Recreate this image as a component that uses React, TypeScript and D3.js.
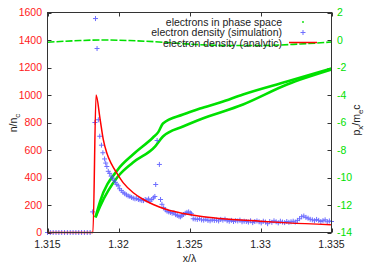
import * as d3 from "d3";

// electron density from the simulation, [x/lambda, n/nc]
const simulation: [number, number][] = [
  [1.315, 0], [1.3152, 0], [1.3154, 0], [1.3156, 0], [1.3158, 0], [1.316, 0], [1.3162, 0], [1.3164, 0],
  [1.3166, 0], [1.3168, 0], [1.317, 0], [1.3172, 0], [1.3174, 0], [1.3176, 0], [1.3178, 0], [1.318, 0],
  [1.31818, 150], [1.31834, 800], [1.31838, 1556], [1.31849, 1338], [1.31858, 820], [1.31868, 700],
  [1.3188, 635], [1.3189, 580], [1.31902, 535], [1.3191, 505], [1.31918, 480], [1.31928, 445],
  [1.31938, 430], [1.31948, 410], [1.31958, 395], [1.31968, 380], [1.31978, 365], [1.31988, 350],
  [1.31998, 340], [1.32008, 318], [1.3202, 305], [1.32032, 292], [1.32044, 282], [1.32056, 274],
  [1.32068, 266], [1.3208, 262], [1.32092, 255], [1.32104, 250], [1.32116, 245], [1.32128, 247],
  [1.3214, 240], [1.32152, 238], [1.32164, 233], [1.32176, 232], [1.32188, 240], [1.322, 236],
  [1.32212, 244], [1.32222, 228], [1.32234, 240], [1.32246, 252], [1.32256, 262], [1.32262, 349],
  [1.32272, 669], [1.32288, 495], [1.32296, 240], [1.32306, 205], [1.32318, 180], [1.3233, 165],
  [1.32342, 155], [1.32354, 150], [1.32366, 146], [1.32378, 140], [1.3239, 143], [1.32402, 130],
  [1.32414, 124], [1.32426, 118], [1.32436, 114], [1.32446, 122], [1.32458, 131], [1.3247, 140],
  [1.32482, 146], [1.32494, 150], [1.32506, 142], [1.32514, 136], [1.32526, 100],
  [1.3254, 98], [1.32555, 95], [1.3257, 100], [1.32585, 92], [1.326, 90], [1.32615, 96], [1.3263, 88],
  [1.32645, 85], [1.3266, 92], [1.32675, 88], [1.3269, 90], [1.32705, 84], [1.3272, 95], [1.32735, 90],
  [1.3275, 97], [1.32765, 86], [1.3278, 82], [1.32795, 88], [1.3281, 80], [1.32825, 86], [1.3284, 84],
  [1.32855, 90], [1.3287, 78], [1.32885, 82], [1.329, 80], [1.32915, 76], [1.3293, 85], [1.32945, 72],
  [1.3296, 80], [1.32975, 84], [1.3299, 78], [1.33005, 70], [1.3302, 82], [1.33035, 76], [1.3305, 64],
  [1.33065, 80], [1.3308, 74], [1.33095, 85], [1.3311, 78], [1.33125, 70], [1.3314, 82], [1.33155, 76],
  [1.3317, 72], [1.33185, 80], [1.332, 74], [1.33215, 78], [1.3323, 82], [1.33245, 76], [1.3326, 88],
  [1.33275, 100], [1.3329, 115], [1.33305, 120], [1.3332, 110], [1.33335, 104], [1.3335, 96],
  [1.33365, 92], [1.3338, 86], [1.33395, 95], [1.3341, 88], [1.33425, 80], [1.3344, 86], [1.33455, 92],
  [1.3347, 78], [1.33485, 84], [1.335, 80],
];

// analytic density
const analytic: [number, number][] = [
  [1.315, 0], [1.3182, 0], [1.31842, 1000], [1.3187, 827], [1.31893, 676], [1.31917, 580],
  [1.31952, 495], [1.31987, 434], [1.32034, 361], [1.32104, 289], [1.32175, 240], [1.32245, 204],
  [1.32339, 167], [1.32456, 138], [1.32574, 118], [1.32715, 102], [1.32996, 82], [1.3319, 70],
  [1.33496, 56],
];

// phase space px/mec (right axis): cold background and two accelerated ribbons
const phaseCold: [number, number][] = [
  [1.315, -0.16], [1.3173, -0.04], [1.3187, 0.0], [1.3208, -0.04], [1.3231, -0.16], [1.3255, -0.33],
  [1.3279, -0.4], [1.33, -0.4], [1.3328, -0.29], [1.335, -0.15],
];
const phaseUpper: [number, number][] = [
  [1.31838, -12.9], [1.3187, -11.75], [1.31996, -9.42], [1.32102, -8.33], [1.32243, -7.09],
  [1.3228, -6.7], [1.32313, -6.07], [1.32454, -5.42], [1.32574, -4.98], [1.32715, -4.55],
  [1.32877, -3.96], [1.33187, -3.02], [1.335, -2.07],
];
const phaseLower: [number, number][] = [
  [1.31838, -12.9], [1.3187, -12.11], [1.31996, -9.93], [1.32102, -8.91], [1.32257, -7.75],
  [1.32313, -7.02], [1.32454, -6.29], [1.32574, -5.78], [1.32877, -4.69], [1.33187, -3.24],
  [1.335, -2.15],
];

const xTicks = [1.315, 1.32, 1.325, 1.33, 1.335];
const yTicks = [0, 200, 400, 600, 800, 1000, 1200, 1400, 1600];
const y2Ticks = [-14, -12, -10, -8, -6, -4, -2, 0, 2];
const legendLabels = [
  "electrons in phase space",
  "electron density (simulation)",
  "electron density (analytic)",
];

const W = 382;
const H = 267;
const left = 47.5, right = 331.5, top = 12.5, bottom = 232.5;
const font = "'Liberation Sans', Arial, sans-serif";
const GREEN = "#00e000";
const RED = "#ff0000";
const BLUE = "#4a4aff";

export default function App() {
  const x = d3.scaleLinear().domain([1.315, 1.335]).range([left, right]);
  const y = d3.scaleLinear().domain([0, 1600]).range([bottom, top]);
  const y2 = d3.scaleLinear().domain([-14, 2]).range([bottom, top]);

  const lineY = d3.line<[number, number]>().x(d => x(d[0])).y(d => y(d[1])).curve(d3.curveMonotoneX);
  const lineY2 = d3.line<[number, number]>().x(d => x(d[0])).y(d => y2(d[1])).curve(d3.curveMonotoneX);

  const tick = 4;

  return (
    <svg width={W} height={H} style={{ position: "absolute", left: 0, top: 0, background: "#fff" }}
      fontFamily={font} fontSize={10.5}>
      {/* ticks */}
      <g stroke="#333" strokeWidth={1}>
        {xTicks.map(t => (
          <g key={"xt" + t}>
            <line x1={Math.round(x(t)) + 0.5} x2={Math.round(x(t)) + 0.5} y1={bottom} y2={bottom - tick} />
            <line x1={Math.round(x(t)) + 0.5} x2={Math.round(x(t)) + 0.5} y1={top} y2={top + tick} />
          </g>
        ))}
        {yTicks.map(t => (
          <line key={"yt" + t} x1={left} x2={left + tick} y1={Math.round(y(t)) + 0.5} y2={Math.round(y(t)) + 0.5} />
        ))}
        {y2Ticks.map(t => (
          <line key={"y2t" + t} x1={right} x2={right - tick} y1={Math.round(y2(t)) + 0.5} y2={Math.round(y2(t)) + 0.5} />
        ))}
      </g>

      {/* phase space */}
      <path d={lineY2(phaseCold) || ""} fill="none" stroke={GREEN} strokeWidth={1.6} strokeDasharray="7,2" />
      <path d={lineY2(phaseUpper) || ""} fill="none" stroke={GREEN} strokeWidth={2.6} />
      <path d={lineY2(phaseLower) || ""} fill="none" stroke={GREEN} strokeWidth={2.6} />

      {/* simulation density */}
      <g stroke={BLUE} strokeWidth={1} opacity={0.8}>
        {simulation.map((d, i) => {
          const cx = x(d[0]);
          const cy = y(d[1]);
          return (
            <g key={"s" + i}>
              <line x1={cx - 2.5} x2={cx + 2.5} y1={cy} y2={cy} />
              <line x1={cx} x2={cx} y1={cy - 2.5} y2={cy + 2.5} />
            </g>
          );
        })}
      </g>

      {/* analytic */}
      <path d={lineY(analytic) || ""} fill="none" stroke={RED} strokeWidth={1.5} />

      {/* legend */}
      <g textAnchor="end" fill="#222">
        {legendLabels.map((l, i) => (
          <text key={l} x={282} y={22 + i * 10.5} dy="0.35em">{l}</text>
        ))}
      </g>
      <circle cx={303} cy={22} r={0.9} fill={GREEN} />
      <g stroke={BLUE} strokeWidth={1} opacity={0.8}>
        <line x1={300.5} x2={305.5} y1={32.5} y2={32.5} />
        <line x1={303} x2={303} y1={30} y2={35} />
      </g>
      <line x1={289} x2={317} y1={42.5} y2={42.5} stroke={RED} strokeWidth={1.5} />

      {/* frame */}
      <rect x={left} y={top} width={right - left} height={bottom - top} fill="none" stroke="#333" strokeWidth={1} />

      {/* tick labels */}
      <g fill="#222" textAnchor="middle">
        {xTicks.map(t => (
          <text key={"xl" + t} x={x(t)} y={248}>{String(t)}</text>
        ))}
      </g>
      <g fill="#ff2020" textAnchor="end">
        {yTicks.map(t => (
          <text key={"yl" + t} x={42} y={y(t)} dy="0.35em">{t}</text>
        ))}
      </g>
      <g fill={GREEN} textAnchor="start">
        {y2Ticks.map(t => (
          <text key={"y2l" + t} x={337} y={y2(t)} dy="0.35em">{t}</text>
        ))}
      </g>

      {/* axis titles */}
      <text x={189.5} y={262} textAnchor="middle" fill="#222">x/λ</text>
      <text transform={`translate(17,123) rotate(-90)`} textAnchor="middle" fill="#222">
        n/n<tspan fontSize={8} dy={3}>c</tspan>
      </text>
      <text transform={`translate(360,120) rotate(-90)`} textAnchor="middle" fill="#222">
        p<tspan fontSize={8} dy={3}>x</tspan>
        <tspan dy={-3}>/m</tspan>
        <tspan fontSize={8} dy={3}>e</tspan>
        <tspan dy={-3}>c</tspan>
      </text>
    </svg>
  );
}
